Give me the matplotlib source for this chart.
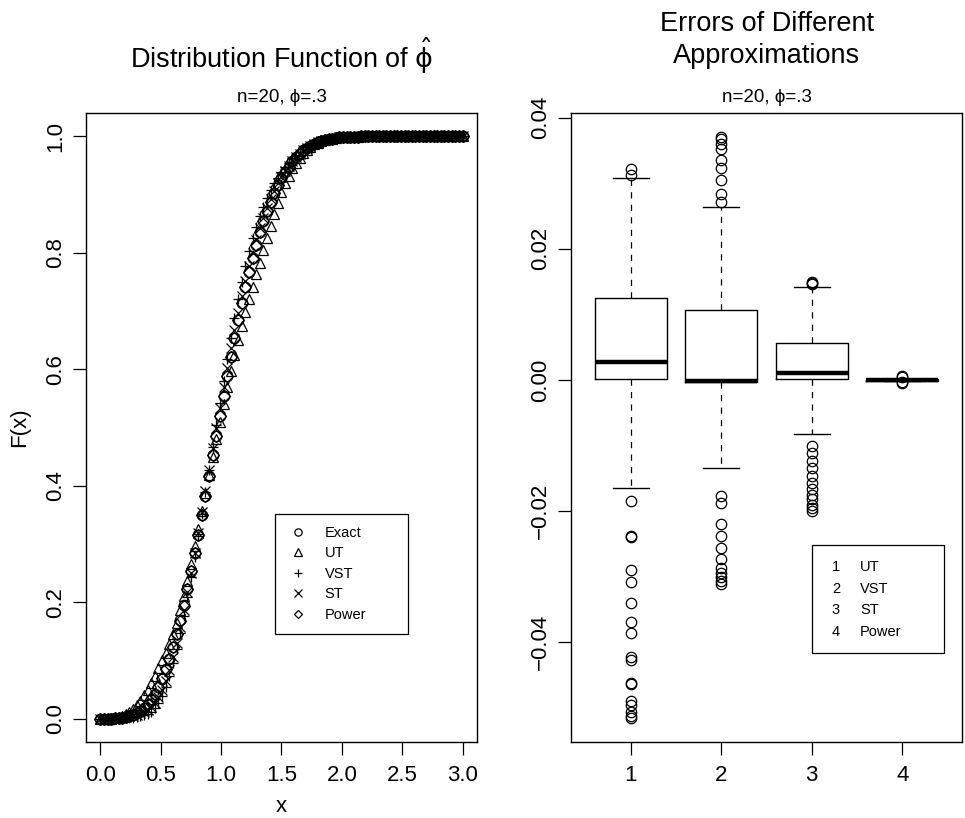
import numpy as np
import matplotlib
matplotlib.use("Agg")
import matplotlib.pyplot as plt
from matplotlib.patches import Rectangle

plt.rcParams["font.family"] = ["Liberation Sans", "DejaVu Sans"]
plt.rcParams["mathtext.fontset"] = "custom"
plt.rcParams["mathtext.rm"] = "DejaVu Sans"
plt.rcParams["mathtext.it"] = "DejaVu Sans"

# --- left panel: CDF values on the x grid ---
x_grid = [
    0.00, 0.03, 0.06, 0.09, 0.12, 0.15, 0.18, 0.21, 0.24, 0.27,
    0.30, 0.33, 0.36, 0.39, 0.42, 0.45, 0.48, 0.51, 0.54, 0.57,
    0.60, 0.63, 0.66, 0.69, 0.72, 0.75, 0.78, 0.81, 0.84, 0.87,
    0.90, 0.93, 0.96, 0.99, 1.02, 1.05, 1.08, 1.11, 1.14, 1.17,
    1.20, 1.23, 1.26, 1.29, 1.32, 1.35, 1.38, 1.41, 1.44, 1.47,
    1.50, 1.53, 1.56, 1.59, 1.62, 1.65, 1.68, 1.71, 1.74, 1.77,
    1.80, 1.83, 1.86, 1.89, 1.92, 1.95, 1.98, 2.01, 2.04, 2.07,
    2.10, 2.13, 2.16, 2.19, 2.22, 2.25, 2.28, 2.31, 2.34, 2.37,
    2.40, 2.43, 2.46, 2.49, 2.52, 2.55, 2.58, 2.61, 2.64, 2.67,
    2.70, 2.73, 2.76, 2.79, 2.82, 2.85, 2.88, 2.91, 2.94, 2.97,
    3.00,
]

exact_cdf = [
    0.000, 0.000, 0.000, 0.000, 0.001, 0.001, 0.002, 0.003, 0.005, 0.007,
    0.010, 0.014, 0.019, 0.025, 0.033, 0.043, 0.055, 0.069, 0.085, 0.103,
    0.123, 0.145, 0.169, 0.195, 0.223, 0.253, 0.284, 0.316, 0.349, 0.383,
    0.417, 0.452, 0.486, 0.520, 0.554, 0.588, 0.621, 0.653, 0.684, 0.713,
    0.741, 0.767, 0.791, 0.814, 0.835, 0.854, 0.872, 0.888, 0.903, 0.916,
    0.928, 0.939, 0.948, 0.957, 0.964, 0.970, 0.976, 0.980, 0.984, 0.987,
    0.990, 0.992, 0.994, 0.995, 0.996, 0.997, 0.998, 0.998, 0.999, 0.999,
    0.999, 0.999, 1.000, 1.000, 1.000, 1.000, 1.000, 1.000, 1.000, 1.000,
    1.000, 1.000, 1.000, 1.000, 1.000, 1.000, 1.000, 1.000, 1.000, 1.000,
    1.000, 1.000, 1.000, 1.000, 1.000, 1.000, 1.000, 1.000, 1.000, 1.000,
    1.000,
]

# deviation of each approximation from the exact CDF
ut_dev = [
    0.000, 0.000, 0.000, 0.000, 0.001, 0.002, 0.003, 0.005, 0.007, 0.010,
    0.013, 0.017, 0.021, 0.025, 0.028, 0.031, 0.032, 0.031, 0.028, 0.025,
    0.022, 0.019, 0.017, 0.015, 0.014, 0.013, 0.012, 0.010, 0.008, 0.005,
    0.002, -0.002, -0.006, -0.010, -0.014, -0.019, -0.024, -0.029, -0.034, -0.039,
    -0.043, -0.046, -0.049, -0.051, -0.052, -0.050, -0.046, -0.042, -0.037, -0.031,
    -0.024, -0.019, -0.016, -0.012, -0.009, -0.007, -0.005, -0.003, -0.002, -0.001,
    -0.001, 0.000, 0.000, 0.000, 0.000, 0.000, 0.000, 0.000, 0.000, 0.000,
    0.000, 0.000, 0.000, 0.000, 0.000, 0.000, 0.000, 0.000, 0.000, 0.000,
    0.000, 0.000, 0.000, 0.000, 0.000, 0.000, 0.000, 0.000, 0.000, 0.000,
    0.000, 0.000, 0.000, 0.000, 0.000, 0.000, 0.000, 0.000, 0.000, 0.000,
    0.000,
]

vst_dev = [
    0.000, 0.000, 0.000, 0.000, 0.000, 0.000, -0.001, -0.002, -0.003, -0.005,
    -0.007, -0.010, -0.013, -0.017, -0.021, -0.025, -0.028, -0.030, -0.031, -0.030,
    -0.028, -0.025, -0.022, -0.018, -0.014, -0.010, -0.006, -0.002, 0.002, 0.006,
    0.010, 0.014, 0.018, 0.022, 0.026, 0.029, 0.032, 0.035, 0.036, 0.037,
    0.037, 0.036, 0.034, 0.031, 0.028, 0.025, 0.022, 0.019, 0.016, 0.013,
    0.011, 0.009, 0.007, 0.005, 0.004, 0.003, 0.002, 0.002, 0.001, 0.001,
    0.001, 0.001, 0.000, 0.000, 0.000, 0.000, 0.000, 0.000, 0.000, 0.000,
    0.000, 0.000, 0.000, 0.000, 0.000, 0.000, 0.000, 0.000, 0.000, 0.000,
    0.000, 0.000, 0.000, 0.000, 0.000, 0.000, 0.000, 0.000, 0.000, 0.000,
    0.000, 0.000, 0.000, 0.000, 0.000, 0.000, 0.000, 0.000, 0.000, 0.000,
    0.000,
]

st_dev = [
    0.000, 0.000, 0.000, 0.000, 0.000, 0.000, 0.000, 0.000, -0.001, -0.002,
    -0.003, -0.005, -0.007, -0.010, -0.013, -0.016, -0.018, -0.020, -0.020, -0.019,
    -0.017, -0.015, -0.012, -0.009, -0.006, -0.003, 0.000, 0.003, 0.006, 0.008,
    0.010, 0.012, 0.013, 0.014, 0.015, 0.015, 0.015, 0.014, 0.013, 0.012,
    0.011, 0.010, 0.009, 0.008, 0.007, 0.006, 0.005, 0.004, 0.003, 0.003,
    0.002, 0.002, 0.001, 0.001, 0.001, 0.000, 0.000, 0.000, 0.000, 0.000,
    0.000, 0.000, 0.000, 0.000, 0.000, 0.000, 0.000, 0.000, 0.000, 0.000,
    0.000, 0.000, 0.000, 0.000, 0.000, 0.000, 0.000, 0.000, 0.000, 0.000,
    0.000, 0.000, 0.000, 0.000, 0.000, 0.000, 0.000, 0.000, 0.000, 0.000,
    0.000, 0.000, 0.000, 0.000, 0.000, 0.000, 0.000, 0.000, 0.000, 0.000,
    0.000,
]

power_dev = [
    0.000, 0.000, 0.000, 0.000, 0.000, 0.000, 0.000, 0.000, 0.000, 0.000,
    0.000, 0.000, 0.000, 0.000, 0.000, 0.000, 0.000, 0.001, 0.001, 0.000,
    0.000, 0.000, -0.001, -0.001, 0.000, 0.000, 0.000, 0.000, 0.000, 0.000,
    0.000, 0.000, 0.000, 0.000, 0.000, 0.000, 0.000, 0.000, 0.000, 0.000,
    0.000, 0.000, 0.000, 0.000, 0.000, 0.000, 0.000, 0.000, 0.000, 0.000,
    0.000, 0.000, 0.000, 0.000, 0.000, 0.000, 0.000, 0.000, 0.000, 0.000,
    0.000, 0.000, 0.000, 0.000, 0.000, 0.000, 0.000, 0.000, 0.000, 0.000,
    0.000, 0.000, 0.000, 0.000, 0.000, 0.000, 0.000, 0.000, 0.000, 0.000,
    0.000, 0.000, 0.000, 0.000, 0.000, 0.000, 0.000, 0.000, 0.000, 0.000,
    0.000, 0.000, 0.000, 0.000, 0.000, 0.000, 0.000, 0.000, 0.000, 0.000,
    0.000,
]

series_names = ["Exact", "UT", "VST", "ST", "Power"]
series_markers = ["o", "^", "+", "x", "D"]

# --- right panel: boxplot summaries of the errors ---
box_names = ["UT", "VST", "ST", "Power"]
box_q1 = [0.0001, -0.0003, 0.0001, -0.0001]
box_med = [0.0028, -0.0001, 0.0010, 0.0000]
box_q3 = [0.0125, 0.0106, 0.0057, 0.0001]
box_lo = [-0.0165, -0.0135, -0.0082, -0.0002]
box_hi = [0.0308, 0.0263, 0.0141, 0.0002]
box_fliers = [
    [0.0313, 0.0321, -0.0185, -0.0238, -0.0240, -0.0290, -0.0308, -0.0340,
     -0.0369, -0.0386, -0.0422, -0.0427, -0.0462, -0.0464, -0.0490, -0.0495,
     -0.0507, -0.0512, -0.0516],
    [0.0271, 0.0284, 0.0305, 0.0323, 0.0336, 0.0352, 0.0360, 0.0367, 0.0371,
     -0.0177, -0.0187, -0.0220, -0.0238, -0.0256, -0.0273, -0.0286, -0.0294,
     -0.0301, -0.0306, -0.0311],
    [0.0146, 0.0148, 0.0150, -0.0101, -0.0111, -0.0124, -0.0134, -0.0147,
     -0.0157, -0.0167, -0.0175, -0.0182, -0.0190, -0.0195, -0.0200],
    [0.0004, 0.0006, -0.0003, -0.0005],
]

W, H = 965, 818
fig = plt.figure(figsize=(W / 100, H / 100), dpi=100)


def fx(px):
    return px / W


def fy(py):
    return 1 - py / H


ax1 = fig.add_axes([fx(86), fy(742), fx(391), 629 / H])
ax2 = fig.add_axes([fx(571), fy(742), fx(391), 629 / H])

for ax in (ax1, ax2):
    for s in ax.spines.values():
        s.set_linewidth(1.0)
        s.set_color("black")
    ax.tick_params(direction="out", length=9.5, width=0.9, labelsize=16, color="black")
    ax.tick_params(axis="y", labelrotation=90, pad=5)
    ax.tick_params(axis="x", pad=7)

# left panel
xg = np.array(x_grid)
ex = np.array(exact_cdf)
curves = [ex, ex + np.array(ut_dev), ex + np.array(vst_dev),
          ex + np.array(st_dev), ex + np.array(power_dev)]
handles = []
for name, mk, yv in zip(series_names, series_markers, curves):
    ms = 6 if mk == "D" else 7.5
    h, = ax1.plot(xg, yv, linestyle="none", marker=mk, markersize=ms,
                  markerfacecolor="none", markeredgecolor="black",
                  markeredgewidth=0.9, label=name)
    handles.append(h)

ax1.set_xlim(-0.12, 3.12)
ax1.set_ylim(-0.04, 1.04)
ax1.set_xticks([0.0, 0.5, 1.0, 1.5, 2.0, 2.5, 3.0])
ax1.set_yticks([0.0, 0.2, 0.4, 0.6, 0.8, 1.0])
ax1.xaxis.set_major_formatter(matplotlib.ticker.FormatStrFormatter("%.1f"))
ax1.yaxis.set_major_formatter(matplotlib.ticker.FormatStrFormatter("%.1f"))
for lab in ax1.get_yticklabels():
    lab.set_va("center")

leg = ax1.legend(handles=handles, loc="upper left",
                 bbox_to_anchor=(fx(275), fy(646), fx(133), 132 / H),
                 bbox_transform=fig.transFigure, mode="expand",
                 borderaxespad=0, fontsize=10.5, markerscale=0.7,
                 handlelength=1.6, handletextpad=1.0, borderpad=0.8,
                 labelspacing=0.45, fancybox=False, framealpha=1,
                 edgecolor="black")
leg.get_frame().set_linewidth(0.9)

# right panel
stats = []
for name, q1, med, q3, lo, hi, fl in zip(box_names, box_q1, box_med, box_q3,
                                         box_lo, box_hi, box_fliers):
    stats.append(dict(label=name, q1=q1, med=med, q3=q3,
                      whislo=lo, whishi=hi, fliers=fl))
positions = [1, 2, 3, 4]
ax2.bxp(stats, positions=positions, widths=0.8, capwidths=0.4,
        boxprops=dict(color="black", linewidth=1.0),
        medianprops=dict(color="black", linewidth=3.2, solid_capstyle="butt"),
        whiskerprops=dict(color="black", linewidth=0.9, linestyle=(0, (5, 5))),
        capprops=dict(color="black", linewidth=1.0),
        flierprops=dict(marker="o", markerfacecolor="none",
                        markeredgecolor="black", markersize=7.5,
                        markeredgewidth=0.9))
ax2.set_xlim(0.34, 4.66)
ax2.set_ylim(-0.0552, 0.0407)
ax2.set_xticks(positions, [str(p) for p in positions])
ax2.set_yticks([-0.04, -0.02, 0.0, 0.02, 0.04])
ax2.yaxis.set_major_formatter(matplotlib.ticker.FuncFormatter(
    lambda v, p: f"{v:.2f}".replace("-", "\u2212")))
for lab in ax2.get_yticklabels():
    lab.set_va("center")

# right legend (numbers + names)
fig.patches.append(Rectangle((fx(812), fy(653)), fx(132), 108 / H,
                             transform=fig.transFigure, fill=False,
                             edgecolor="black", linewidth=0.9))
for i, name in enumerate(box_names):
    yy = fy(567 + i * 21.7)
    fig.text(fx(836), yy, str(i + 1), ha="center", va="center", fontsize=10.5)
    fig.text(fx(860), yy, name, ha="left", va="center", fontsize=10.5)

# titles and axis labels
fig.text(fx(281.5), fy(56), r"Distribution Function of $\hat{\phi}$",
         ha="center", va="center", fontsize=19.5)
fig.text(fx(766.5), fy(24), "Errors of Different", ha="center", va="center",
         fontsize=19.5)
fig.text(fx(766.5), fy(56), "Approximations", ha="center", va="center",
         fontsize=19.5)
subtitle = "n=20, \u03d5=.3"
fig.text(fx(281.5), fy(97), subtitle, ha="center", va="center", fontsize=13.5)
fig.text(fx(766.5), fy(97), subtitle, ha="center", va="center", fontsize=13.5)
fig.text(fx(281.5), fy(806), "x", ha="center", va="center", fontsize=16)
fig.text(fx(20), fy(427), "F(x)", ha="center", va="center", rotation=90,
         fontsize=16)

fig.savefig("out.png", dpi=100)
